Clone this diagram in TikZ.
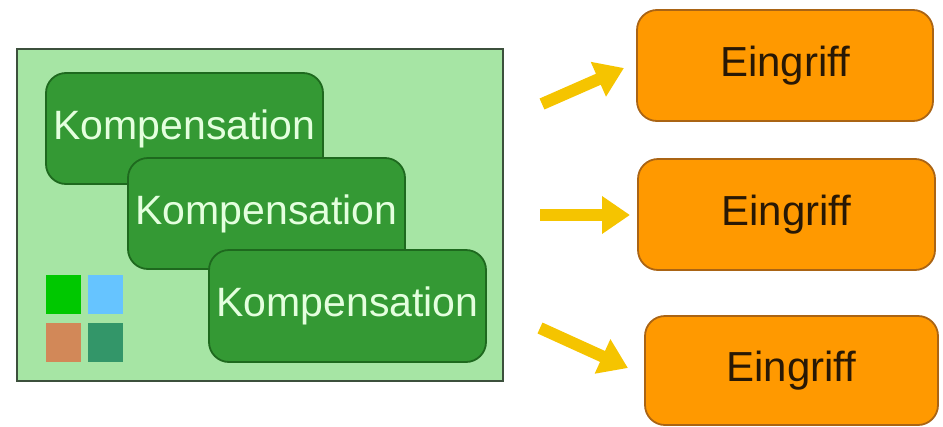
\documentclass[tikz,border=0pt]{standalone}
\usepackage{fontspec}
\setmainfont{Liberation Sans}
\usetikzlibrary{arrows.meta}
\definecolor{bgGreen}{RGB}{166,229,164}
\definecolor{bgBorder}{RGB}{60,80,60}
\definecolor{kGreen}{RGB}{52,153,52}
\definecolor{kBorder}{RGB}{30,105,30}
\definecolor{kText}{RGB}{228,255,222}
\definecolor{eOrange}{RGB}{255,153,0}
\definecolor{eBorder}{RGB}{170,100,20}
\definecolor{eText}{RGB}{40,24,5}
\definecolor{arrowYellow}{RGB}{245,196,0}
\definecolor{sqGreen}{RGB}{0,200,0}
\definecolor{sqBlue}{RGB}{102,196,255}
\definecolor{sqBrown}{RGB}{210,136,88}
\definecolor{sqTeal}{RGB}{51,150,105}
\tikzset{
  kbox/.style={draw=kBorder, line width=1.8pt, fill=kGreen, rounded corners=20pt,
    minimum width=277pt, minimum height=111pt, inner sep=0pt, text=kText,
    font=\fontsize{41}{48}\selectfont},
  ebox/.style={draw=eBorder, line width=1.8pt, fill=eOrange, rounded corners=20pt,
    inner sep=0pt, text=eText, font=\fontsize{42}{48}\selectfont},
  sq/.style={minimum width=35pt, minimum height=39pt, inner sep=0pt},
  yarrow/.style={draw=arrowYellow, line width=12pt,
    -{Triangle[width=36pt,length=28pt]}}
}
\begin{document}
\begin{tikzpicture}[x=1pt,y=-1pt]
\useasboundingbox (0,0) rectangle (943,426);
% main panel
\node[draw=bgBorder, line width=1.5pt, fill=bgGreen, minimum width=486pt, minimum height=332pt, inner sep=0pt] (main) at (260,215) {};
% compensation boxes
\node[kbox] (k1) at (184.5,128.5) {Kompensation};
\node[kbox] (k2) at (266.5,213.5) {Kompensation};
\node[kbox, minimum height=112pt] (k3) at (347.5,306) {Kompensation};
% squares
\node[sq, fill=sqGreen] (s1) at (63.5,294.5) {};
\node[sq, fill=sqBlue] (s2) at (105,294.5) {};
\node[sq, fill=sqBrown] (s3) at (63.5,342.5) {};
\node[sq, fill=sqTeal] (s4) at (105,342.5) {};
% intervention boxes
\node[ebox, minimum width=296pt, minimum height=111pt] (e1) at (785,65.5) {Eingriff};
\node[ebox, minimum width=297pt, minimum height=111pt] (e2) at (786.5,214.5) {Eingriff};
\node[ebox, minimum width=293pt, minimum height=109pt] (e3) at (791.5,370.5) {Eingriff};
% arrows
\coordinate (a1s) at (542,104);
\coordinate (a1e) at (624,68);
\coordinate (a2s) at (540,215);
\coordinate (a2e) at (630,215);
\coordinate (a3s) at (540,328);
\coordinate (a3e) at (628,368);
\draw[yarrow] (a1s) -- (a1e);
\draw[yarrow] (a2s) -- (a2e);
\draw[yarrow] (a3s) -- (a3e);
\end{tikzpicture}
\end{document}
